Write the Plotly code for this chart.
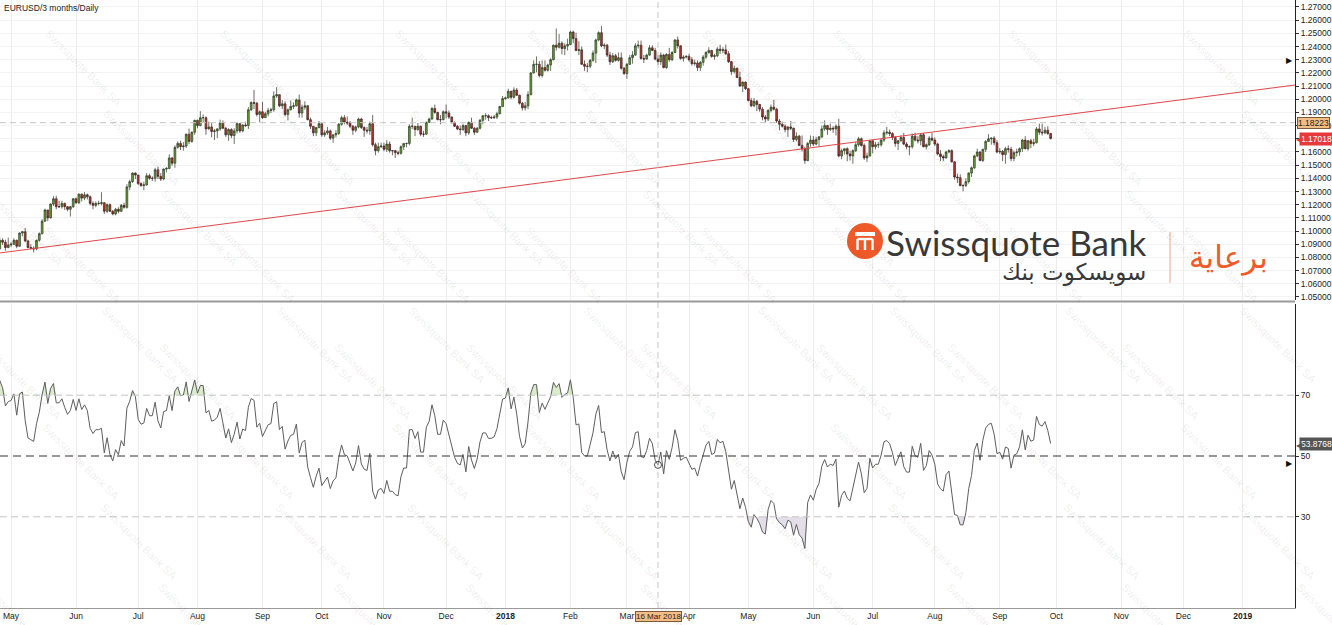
import numpy as np
import pandas as pd
import plotly.graph_objects as go
from plotly.subplots import make_subplots

# ---------------- data (EURUSD daily, weekdays) ----------------
first_day = "2017-04-03"
last_day = "2018-09-27"

opens = [
 1.0650,1.0665,1.0670,1.0665,1.0645,1.0590,1.0600,1.0610,1.0665,1.0615,1.0615,1.0645,1.0730,1.0715,1.0715,1.0900,1.0865,1.0930,1.0915,1.0875,
 1.0895,1.0900,1.0930,1.0885,1.0985,1.0995,1.0925,1.0875,1.0870,1.0865,1.0930,1.0980,1.1075,1.1160,1.1100,1.1205,1.1245,1.1185,1.1185,1.1210,1.1185,1.1165,1.1185,
 1.1245,1.1215,1.1280,1.1250,1.1275,1.1260,1.1210,1.1195,1.1210,1.1210,1.1215,1.1150,1.1200,1.1150,1.1130,1.1165,1.1150,1.1195,1.1180,1.1335,1.1375,1.1440,
 1.1425,1.1360,1.1345,1.1350,1.1420,1.1400,1.1400,1.1465,1.1415,1.1395,1.1470,1.1475,1.1555,1.1515,1.1635,1.1665,1.1640,1.1645,1.1735,1.1680,1.1750,
 1.1840,1.1800,1.1860,1.1860,1.1775,1.1790,1.1755,1.1760,1.1775,1.1820,1.1780,1.1730,1.1770,1.1725,1.1760,1.1815,1.1760,1.1805,1.1800,1.1920,1.1975,1.1970,1.1885,
 1.1905,1.1860,1.1890,1.1915,1.1920,1.2025,1.2035,1.1950,1.1965,1.1885,1.1920,1.1945,1.1950,1.1995,1.1895,1.1940,1.1950,1.1845,1.1795,1.1745,1.1785,
 1.1815,1.1730,1.1745,1.1760,1.1705,1.1730,1.1740,1.1810,1.1860,1.1825,1.1820,1.1795,1.1765,1.1790,1.1850,1.1785,1.1765,1.1760,1.1815,1.1655,1.1610,1.1640,
 1.1645,1.1620,1.1660,1.1610,1.1610,1.1595,1.1590,1.1640,1.1665,1.1665,1.1795,1.1795,1.1770,1.1795,1.1735,1.1735,1.1825,1.1850,1.1930,1.1900,1.1845,1.1845,
 1.1905,1.1895,1.1865,1.1825,1.1795,1.1775,1.1770,1.1800,1.1745,1.1825,1.1780,1.1750,1.1780,1.1840,1.1875,1.1875,1.1860,1.1860,1.1865,1.1890,1.1945,
 1.2005,1.2010,1.2060,1.2015,1.2070,1.2030,1.1970,1.1935,1.1950,1.2035,1.2200,1.2265,1.2265,1.2180,1.2240,1.2220,1.2260,1.2300,1.2410,1.2395,1.2425,1.2385,1.2405,
 1.2415,1.2510,1.2460,1.2370,1.2375,1.2265,1.2250,1.2250,1.2295,1.2350,1.2450,1.2505,1.2405,1.2410,1.2335,1.2285,1.2330,1.2295,1.2315,1.2235,
 1.2195,1.2265,1.2315,1.2335,1.2405,1.2410,1.2310,1.2305,1.2335,1.2390,1.2370,1.2305,1.2285,1.2335,1.2240,1.2340,1.2300,1.2355,1.2450,1.2405,1.2310,1.2320,
 1.2325,1.2300,1.2270,1.2275,1.2240,1.2280,1.2320,1.2355,1.2370,1.2325,1.2330,1.2380,1.2370,1.2375,1.2345,1.2285,1.2210,1.2235,1.2165,1.2100,1.2130,
 1.2080,1.1990,1.1950,1.1985,1.1960,1.1925,1.1865,1.1850,1.1915,1.1940,1.1925,1.1835,1.1810,1.1795,1.1770,1.1790,1.1780,1.1695,1.1720,1.1650,1.1625,1.1535,1.1665,
 1.1690,1.1660,1.1695,1.1715,1.1775,1.1800,1.1770,1.1780,1.1775,1.1795,1.1570,1.1610,1.1625,1.1585,1.1570,1.1610,1.1655,1.1700,1.1650,1.1555,1.1570,
 1.1685,1.1640,1.1655,1.1655,1.1690,1.1745,1.1750,1.1740,1.1710,1.1665,1.1685,1.1710,1.1660,1.1640,1.1640,1.1720,1.1690,1.1685,1.1730,1.1640,1.1655,1.1705,
 1.1690,1.1660,1.1585,1.1565,1.1555,1.1600,1.1610,1.1525,1.1410,1.1405,1.1345,1.1345,1.1375,1.1440,1.1480,1.1570,1.1600,1.1535,1.1620,1.1680,1.1700,1.1705,1.1670,
 1.1600,1.1605,1.1580,1.1625,1.1620,1.1550,1.1595,1.1600,1.1625,1.1690,1.1625,1.1685,1.1665,1.1670,1.1775,1.1750,1.1745,1.1765,1.1740,
]
highs = [
 1.0690,1.0680,1.0700,1.0690,1.0670,1.0620,1.0625,1.0680,1.0680,1.0630,1.0660,1.0735,1.0740,1.0780,1.0740,1.0937,1.0950,1.0945,1.0935,1.0950,
 1.0915,1.0945,1.0935,1.0990,1.1000,1.1023,1.0935,1.0900,1.0885,1.0935,1.0990,1.1090,1.1170,1.1160,1.1210,1.1265,1.1268,1.1230,1.1230,1.1215,1.1190,1.1190,1.1250,
 1.1255,1.1285,1.1285,1.1296,1.1285,1.1270,1.1225,1.1225,1.1230,1.1295,1.1220,1.1210,1.1210,1.1160,1.1175,1.1180,1.1205,1.1215,1.1355,1.1390,1.1445,1.1445,
 1.1425,1.1370,1.1375,1.1440,1.1435,1.1415,1.1480,1.1490,1.1440,1.1475,1.1485,1.1583,1.1560,1.1650,1.1680,1.1685,1.1675,1.1740,1.1777,1.1755,1.1845,
 1.1845,1.1910,1.1885,1.1870,1.1830,1.1820,1.1775,1.1780,1.1845,1.1840,1.1790,1.1780,1.1780,1.1780,1.1825,1.1820,1.1810,1.1830,1.1940,1.1985,1.2070,1.1980,1.1915,
 1.1980,1.1905,1.1935,1.1935,1.2060,1.2092,1.2035,1.1995,1.1985,1.1930,1.1990,1.1975,1.2005,1.2035,1.1960,1.1985,1.1955,1.1860,1.1795,1.1790,1.1835,
 1.1815,1.1765,1.1790,1.1770,1.1735,1.1765,1.1820,1.1875,1.1880,1.1870,1.1835,1.1805,1.1800,1.1860,1.1860,1.1795,1.1790,1.1830,1.1880,1.1670,1.1670,1.1670,
 1.1670,1.1690,1.1680,1.1615,1.1615,1.1610,1.1650,1.1665,1.1670,1.1810,1.1860,1.1795,1.1820,1.1800,1.1760,1.1830,1.1860,1.1940,1.1960,1.1905,1.1880,1.1915,
 1.1960,1.1915,1.1870,1.1830,1.1805,1.1800,1.1815,1.1805,1.1830,1.1860,1.1790,1.1790,1.1850,1.1880,1.1895,1.1885,1.1875,1.1880,1.1905,1.1950,1.2025,
 1.2020,1.2080,1.2065,1.2090,1.2085,1.2035,1.1980,1.1980,1.2060,1.2205,1.2295,1.2325,1.2290,1.2295,1.2295,1.2270,1.2310,1.2415,1.2537,1.2495,1.2440,1.2425,1.2460,
 1.2520,1.2520,1.2505,1.2440,1.2400,1.2295,1.2275,1.2305,1.2370,1.2460,1.2515,1.2555,1.2425,1.2420,1.2360,1.2350,1.2345,1.2355,1.2355,1.2245,
 1.2275,1.2335,1.2365,1.2425,1.2445,1.2445,1.2335,1.2345,1.2410,1.2410,1.2390,1.2335,1.2355,1.2345,1.2350,1.2390,1.2365,1.2455,1.2476,1.2410,1.2335,1.2335,
 1.2345,1.2320,1.2300,1.2295,1.2290,1.2335,1.2365,1.2395,1.2375,1.2345,1.2395,1.2414,1.2395,1.2415,1.2365,1.2290,1.2255,1.2240,1.2210,1.2135,1.2135,
 1.2085,1.2010,1.2010,1.1995,1.1965,1.1940,1.1880,1.1925,1.1960,1.1995,1.1935,1.1850,1.1830,1.1810,1.1795,1.1835,1.1785,1.1750,1.1730,1.1725,1.1640,1.1675,1.1725,
 1.1720,1.1715,1.1720,1.1800,1.1840,1.1805,1.1815,1.1795,1.1810,1.1852,1.1625,1.1625,1.1635,1.1610,1.1620,1.1675,1.1715,1.1710,1.1665,1.1595,1.1690,
 1.1690,1.1675,1.1675,1.1700,1.1765,1.1790,1.1770,1.1750,1.1720,1.1690,1.1725,1.1745,1.1675,1.1650,1.1740,1.1745,1.1720,1.1740,1.1745,1.1665,1.1720,1.1745,
 1.1710,1.1670,1.1615,1.1580,1.1610,1.1620,1.1620,1.1530,1.1435,1.1430,1.1355,1.1400,1.1445,1.1490,1.1580,1.1625,1.1605,1.1625,1.1690,1.1735,1.1710,1.1720,1.1690,
 1.1630,1.1615,1.1640,1.1650,1.1640,1.1610,1.1625,1.1635,1.1700,1.1720,1.1690,1.1700,1.1700,1.1790,1.1815,1.1815,1.1790,1.1795,1.1745,
]
lows = [
 1.0635,1.0640,1.0640,1.0640,1.0570,1.0570,1.0580,1.0595,1.0605,1.0605,1.0600,1.0640,1.0690,1.0685,1.0680,1.0820,1.0860,1.0895,1.0850,1.0870,
 1.0880,1.0895,1.0870,1.0880,1.0960,1.0915,1.0870,1.0865,1.0838,1.0855,1.0920,1.0975,1.1070,1.1075,1.1095,1.1190,1.1165,1.1175,1.1170,1.1160,1.1150,1.1110,1.1175,
 1.1205,1.1205,1.1225,1.1235,1.1240,1.1195,1.1165,1.1180,1.1195,1.1195,1.1130,1.1135,1.1145,1.1120,1.1120,1.1135,1.1145,1.1170,1.1170,1.1310,1.1365,1.1395,
 1.1350,1.1335,1.1310,1.1345,1.1390,1.1380,1.1375,1.1395,1.1380,1.1385,1.1445,1.1470,1.1495,1.1480,1.1625,1.1615,1.1610,1.1630,1.1660,1.1670,1.1730,
 1.1780,1.1795,1.1825,1.1730,1.1770,1.1712,1.1690,1.1705,1.1760,1.1775,1.1715,1.1685,1.1705,1.1660,1.1740,1.1745,1.1750,1.1790,1.1775,1.1910,1.1925,1.1870,1.1825,
 1.1850,1.1860,1.1870,1.1895,1.1905,1.2010,1.1940,1.1925,1.1870,1.1840,1.1915,1.1925,1.1945,1.1860,1.1860,1.1920,1.1840,1.1775,1.1720,1.1720,1.1780,
 1.1715,1.1715,1.1730,1.1690,1.1670,1.1710,1.1730,1.1800,1.1810,1.1805,1.1780,1.1730,1.1750,1.1780,1.1775,1.1715,1.1740,1.1730,1.1640,1.1575,1.1595,1.1630,
 1.1605,1.1600,1.1595,1.1575,1.1555,1.1575,1.1580,1.1615,1.1635,1.1650,1.1775,1.1720,1.1760,1.1720,1.1715,1.1730,1.1820,1.1845,1.1890,1.1840,1.1810,1.1840,
 1.1855,1.1850,1.1815,1.1790,1.1765,1.1730,1.1760,1.1720,1.1730,1.1775,1.1730,1.1745,1.1770,1.1810,1.1845,1.1835,1.1850,1.1850,1.1850,1.1885,1.1940,
 1.1995,1.2005,1.2000,1.2005,1.2025,1.1960,1.1915,1.1915,1.1925,1.2030,1.2195,1.2205,1.2165,1.2165,1.2210,1.2210,1.2215,1.2295,1.2370,1.2385,1.2340,1.2335,1.2370,
 1.2410,1.2425,1.2365,1.2335,1.2260,1.2215,1.2205,1.2235,1.2285,1.2275,1.2440,1.2395,1.2380,1.2320,1.2260,1.2275,1.2285,1.2285,1.2225,1.2185,
 1.2155,1.2260,1.2270,1.2330,1.2385,1.2300,1.2275,1.2300,1.2330,1.2365,1.2295,1.2260,1.2260,1.2235,1.2230,1.2285,1.2290,1.2350,1.2385,1.2300,1.2285,1.2310,
 1.2285,1.2255,1.2255,1.2215,1.2215,1.2255,1.2305,1.2345,1.2315,1.2300,1.2320,1.2345,1.2350,1.2335,1.2275,1.2185,1.2195,1.2160,1.2095,1.2055,1.2070,
 1.1985,1.1940,1.1940,1.1910,1.1905,1.1840,1.1820,1.1835,1.1900,1.1915,1.1820,1.1765,1.1785,1.1750,1.1715,1.1765,1.1675,1.1680,1.1645,1.1605,1.1510,1.1530,1.1640,
 1.1645,1.1650,1.1645,1.1705,1.1760,1.1730,1.1760,1.1745,1.1725,1.1560,1.1545,1.1580,1.1530,1.1535,1.1510,1.1600,1.1640,1.1640,1.1540,1.1525,1.1565,
 1.1590,1.1620,1.1630,1.1640,1.1675,1.1730,1.1720,1.1690,1.1640,1.1615,1.1680,1.1650,1.1620,1.1575,1.1625,1.1680,1.1665,1.1650,1.1635,1.1620,1.1645,1.1680,
 1.1645,1.1575,1.1530,1.1530,1.1550,1.1590,1.1520,1.1390,1.1365,1.1340,1.1301,1.1335,1.1360,1.1410,1.1470,1.1560,1.1530,1.1525,1.1600,1.1675,1.1655,1.1650,1.1590,
 1.1585,1.1530,1.1510,1.1595,1.1530,1.1530,1.1565,1.1570,1.1600,1.1620,1.1610,1.1630,1.1645,1.1665,1.1730,1.1725,1.1735,1.1730,1.1695,
]
closes = [
 1.0665,1.0670,1.0665,1.0645,1.0590,1.0600,1.0610,1.0665,1.0615,1.0615,1.0645,1.0730,1.0715,1.0715,1.0725,1.0865,1.0930,1.0915,1.0875,1.0895,
 1.0900,1.0930,1.0885,1.0985,1.0995,1.0925,1.0875,1.0870,1.0865,1.0930,1.0980,1.1075,1.1160,1.1100,1.1205,1.1245,1.1185,1.1185,1.1210,1.1185,1.1165,1.1185,1.1245,
 1.1215,1.1280,1.1250,1.1275,1.1260,1.1210,1.1195,1.1210,1.1210,1.1215,1.1150,1.1200,1.1150,1.1130,1.1165,1.1150,1.1195,1.1180,1.1335,1.1375,1.1440,1.1425,
 1.1360,1.1345,1.1350,1.1420,1.1400,1.1400,1.1465,1.1415,1.1395,1.1470,1.1475,1.1555,1.1515,1.1635,1.1665,1.1640,1.1645,1.1735,1.1680,1.1750,1.1840,
 1.1800,1.1860,1.1860,1.1775,1.1790,1.1755,1.1760,1.1775,1.1820,1.1780,1.1730,1.1770,1.1725,1.1760,1.1815,1.1760,1.1805,1.1800,1.1920,1.1975,1.1970,1.1885,1.1905,
 1.1860,1.1890,1.1915,1.1920,1.2025,1.2035,1.1950,1.1965,1.1885,1.1920,1.1945,1.1950,1.1995,1.1895,1.1940,1.1950,1.1845,1.1795,1.1745,1.1785,1.1815,
 1.1730,1.1745,1.1760,1.1705,1.1730,1.1740,1.1810,1.1860,1.1825,1.1820,1.1795,1.1765,1.1790,1.1850,1.1785,1.1765,1.1760,1.1815,1.1655,1.1610,1.1640,1.1645,
 1.1620,1.1660,1.1610,1.1610,1.1595,1.1590,1.1640,1.1665,1.1665,1.1795,1.1795,1.1770,1.1795,1.1735,1.1735,1.1825,1.1850,1.1930,1.1900,1.1845,1.1845,1.1905,
 1.1895,1.1865,1.1825,1.1795,1.1775,1.1770,1.1800,1.1745,1.1825,1.1780,1.1750,1.1780,1.1840,1.1875,1.1875,1.1860,1.1860,1.1865,1.1890,1.1945,1.2005,
 1.2010,1.2060,1.2015,1.2070,1.2030,1.1970,1.1935,1.1950,1.2035,1.2200,1.2265,1.2265,1.2180,1.2240,1.2220,1.2260,1.2300,1.2410,1.2395,1.2425,1.2385,1.2405,1.2415,
 1.2510,1.2460,1.2370,1.2375,1.2265,1.2250,1.2250,1.2295,1.2350,1.2450,1.2505,1.2405,1.2410,1.2335,1.2285,1.2330,1.2295,1.2315,1.2235,1.2195,
 1.2265,1.2315,1.2335,1.2405,1.2410,1.2310,1.2305,1.2335,1.2390,1.2370,1.2305,1.2285,1.2335,1.2240,1.2340,1.2300,1.2355,1.2450,1.2405,1.2310,1.2320,1.2325,
 1.2300,1.2270,1.2275,1.2240,1.2280,1.2320,1.2355,1.2370,1.2325,1.2330,1.2380,1.2370,1.2375,1.2345,1.2285,1.2210,1.2235,1.2165,1.2100,1.2130,1.2080,
 1.1990,1.1950,1.1985,1.1960,1.1925,1.1865,1.1850,1.1915,1.1940,1.1925,1.1835,1.1810,1.1795,1.1770,1.1790,1.1780,1.1695,1.1720,1.1650,1.1625,1.1535,1.1665,1.1690,
 1.1660,1.1695,1.1715,1.1775,1.1800,1.1770,1.1780,1.1775,1.1795,1.1570,1.1610,1.1625,1.1585,1.1570,1.1610,1.1655,1.1700,1.1650,1.1555,1.1570,1.1685,
 1.1640,1.1655,1.1655,1.1690,1.1745,1.1750,1.1740,1.1710,1.1665,1.1685,1.1710,1.1660,1.1640,1.1640,1.1720,1.1690,1.1685,1.1730,1.1640,1.1655,1.1705,1.1690,
 1.1660,1.1585,1.1565,1.1555,1.1600,1.1610,1.1525,1.1410,1.1405,1.1345,1.1345,1.1375,1.1440,1.1480,1.1570,1.1600,1.1535,1.1620,1.1680,1.1700,1.1705,1.1670,1.1600,
 1.1605,1.1580,1.1625,1.1620,1.1550,1.1595,1.1600,1.1625,1.1690,1.1625,1.1685,1.1665,1.1670,1.1775,1.1750,1.1745,1.1765,1.1740,1.1702,
]

month_ticks = ["2017-05-01", "2017-06-01", "2017-07-03", "2017-08-01", "2017-09-01", "2017-10-02",
               "2017-11-01", "2017-12-01", "2018-01-01", "2018-02-01", "2018-03-01", "2018-04-02",
               "2018-05-01", "2018-06-01", "2018-07-02", "2018-08-01", "2018-09-03", "2018-10-01",
               "2018-11-01", "2018-12-03", "2019-01-01"]
month_labels = ["May", "Jun", "Jul", "Aug", "Sep", "Oct", "Nov", "Dec", "<b>2018</b>", "Feb", "Mar", "Apr",
                "May", "Jun", "Jul", "Aug", "Sep", "Oct", "Nov", "Dec", "<b>2019</b>"]
price_ticks = [1.05, 1.06, 1.07, 1.08, 1.09, 1.10, 1.11, 1.12, 1.13, 1.14, 1.15, 1.16,
               1.17, 1.18, 1.19, 1.20, 1.21, 1.22, 1.23, 1.24, 1.25, 1.26, 1.27]
rsi_ticks = [30, 50, 70]
trend_dates = ["2017-04-25 02:00", "2019-01-25 12:00"]
trend_prices = [1.0834, 1.2108]
crosshair_date = "2018-03-16"
crosshair_price = 1.18223
last_price = 1.17018
rsi_last = 53.8768
alert_price = 1.2298
alert_rsi = 47.7
x_range = ["2017-04-25 02:00", "2019-01-25 12:00"]
price_range = [1.0477, 1.2753]
rsi_period = 14

# ---------------- derived ----------------
dates = pd.bdate_range(first_day, last_day)
assert len(dates) == len(closes) == len(opens) == len(highs) == len(lows)

c = np.array(closes)
d = np.diff(c)
gain = np.where(d > 0, d, 0.0)
loss = np.where(d < 0, -d, 0.0)
rsi = np.full(len(c), np.nan)
ag = gain[:rsi_period].mean()
al = loss[:rsi_period].mean()
rsi[rsi_period] = 100 - 100 / (1 + ag / al)
for i in range(rsi_period, len(d)):
    ag = (ag * (rsi_period - 1) + gain[i]) / rsi_period
    al = (al * (rsi_period - 1) + loss[i]) / rsi_period
    rsi[i + 1] = 100 - 100 / (1 + ag / al)
rd = dates[rsi_period:]
rv = rsi[rsi_period:]

# ---------------- figure ----------------
W, H = 1332, 625
ML, MR, MT, MB = 0, 37, 0, 17
PW, PH = W - ML - MR, H - MT - MB


def px(x):
    return (x - ML) / PW


def py(y):
    return 1 - (y - MT) / PH


fig = make_subplots(rows=2, cols=1, shared_xaxes=True, vertical_spacing=0.01)

fig.add_trace(go.Candlestick(
    x=dates, open=opens, high=highs, low=lows, close=closes,
    increasing=dict(line=dict(color="#2f3a25", width=0.7), fillcolor="#62a532"),
    decreasing=dict(line=dict(color="#3a2422", width=0.7), fillcolor="#bf3129"),
    whiskerwidth=0, showlegend=False, hoverinfo="skip"), row=1, col=1)

fig.add_trace(go.Scatter(x=trend_dates, y=trend_prices, mode="lines",
                         line=dict(color="#e2474a", width=1), showlegend=False, hoverinfo="skip"),
              row=1, col=1)

# RSI overbought / oversold fills
fig.add_trace(go.Scatter(x=rd, y=np.full(len(rv), 70.0), mode="lines", line=dict(width=0),
                         showlegend=False, hoverinfo="skip"), row=2, col=1)
fig.add_trace(go.Scatter(x=rd, y=np.maximum(rv, 70.0), mode="lines", line=dict(width=0),
                         fill="tonexty", fillcolor="rgba(175,212,145,0.45)",
                         showlegend=False, hoverinfo="skip"), row=2, col=1)
fig.add_trace(go.Scatter(x=rd, y=np.full(len(rv), 30.0), mode="lines", line=dict(width=0),
                         showlegend=False, hoverinfo="skip"), row=2, col=1)
fig.add_trace(go.Scatter(x=rd, y=np.minimum(rv, 30.0), mode="lines", line=dict(width=0),
                         fill="tonexty", fillcolor="rgba(205,195,215,0.55)",
                         showlegend=False, hoverinfo="skip"), row=2, col=1)
fig.add_trace(go.Scatter(x=rd, y=rv, mode="lines", line=dict(color="#5e5e5e", width=1),
                         showlegend=False, hoverinfo="skip"), row=2, col=1)

ci = list(dates).index(pd.Timestamp(crosshair_date))
fig.add_trace(go.Scatter(x=[dates[ci]], y=[rsi[ci]], mode="markers",
                         marker=dict(symbol="circle-open", size=7, color="#444", line=dict(width=1)),
                         showlegend=False, hoverinfo="skip"), row=2, col=1)

tick_font = dict(family="Liberation Sans, Arial, sans-serif", size=8.5, color="#222")
rb = [dict(bounds=["sat", "mon"])]

fig.update_layout(
    width=W, height=H, margin=dict(l=ML, r=MR, t=MT, b=MB),
    paper_bgcolor="white", plot_bgcolor="white", showlegend=False, boxgap=0.1,
    xaxis=dict(type="date", range=x_range, rangebreaks=rb, rangeslider=dict(visible=False),
               tickvals=month_ticks, showticklabels=False, showgrid=True, gridcolor="#ececec",
               gridwidth=1, zeroline=False, showline=False),
    xaxis2=dict(type="date", range=x_range, rangebreaks=rb, tickvals=month_ticks, ticktext=month_labels,
                tickfont=tick_font, showgrid=True, gridcolor="#ececec", gridwidth=1, ticks="",
                showline=True, linecolor="#9a9a9a", linewidth=1, zeroline=False),
    yaxis=dict(domain=[1 - 300 / PH, 1], range=price_range, side="right", tickvals=price_ticks,
               tickformat=".5f", tickfont=tick_font, ticks="outside", ticklen=3, tickcolor="#333",
               showgrid=True, gridcolor="#f3f3f3", showline=True, linecolor="#222", linewidth=1,
               zeroline=False, automargin=False),
    yaxis2=dict(domain=[0, 1 - 304 / PH], range=[0, 100], side="right", tickvals=rsi_ticks,
                tickfont=tick_font, ticks="outside", ticklen=3, tickcolor="#333",
                showgrid=False, showline=True, linecolor="#222", linewidth=1, zeroline=False,
                automargin=False),
)

shapes = []
# RSI levels
for lvl, col, dash, wd in [(70, "#c4c4c4", "7px,4px", 1), (30, "#c4c4c4", "7px,4px", 1),
                           (50, "#333333", "8px,5px", 1.2)]:
    shapes.append(dict(type="line", xref="paper", yref="y2", x0=0, x1=1, y0=lvl, y1=lvl,
                       line=dict(color=col, width=wd, dash=dash)))
# crosshair
shapes.append(dict(type="line", xref="x", yref="paper", x0=crosshair_date, x1=crosshair_date, y0=0, y1=1,
                   line=dict(color="#c6c6c6", width=1, dash="6px,4px")))
shapes.append(dict(type="line", xref="paper", yref="y", x0=0, x1=1, y0=crosshair_price, y1=crosshair_price,
                   line=dict(color="#c6c6c6", width=1, dash="6px,4px")))
# panel separator
shapes.append(dict(type="line", xref="paper", yref="paper", x0=0, x1=1, y0=py(301.5), y1=py(301.5),
                   line=dict(color="#9a9a9a", width=2)))
# logo circle + icon
shapes.append(dict(type="circle", xref="paper", yref="paper", x0=px(847), x1=px(883), y0=py(259), y1=py(223),
                   fillcolor="#f05a28", line=dict(width=0)))
shapes.append(dict(type="rect", xref="paper", yref="paper", x0=px(855), x1=px(875), y0=py(236), y1=py(232),
                   fillcolor="white", line=dict(width=0)))
for xx in (857.5, 865, 872.5):
    shapes.append(dict(type="line", xref="paper", yref="paper", x0=px(xx), x1=px(xx), y0=py(239), y1=py(250),
                       line=dict(color="white", width=2.4)))
shapes.append(dict(type="line", xref="paper", yref="paper", x0=px(857.5), x1=px(872.5), y0=py(239), y1=py(239),
                   line=dict(color="white", width=2.4)))
# separator in logo
shapes.append(dict(type="line", xref="paper", yref="paper", x0=px(1170), x1=px(1170), y0=py(232), y1=py(283),
                   line=dict(color="#f2b49c", width=1.2)))

annotations = []
# watermark
wm_font = dict(family="Liberation Sans, Arial, sans-serif", size=11, color="rgba(0,0,0,0.085)")
for r in range(9):
    yy = 25 + r * 80
    off = (r * 58) % 175
    for k in range(-1, 9):
        xx = 40 + off + k * 175
        if -60 < xx < 1380:
            annotations.append(dict(x=xx / PW, y=py(yy), xref="paper", yref="paper", text="Swissquote Bank SA",
                                    showarrow=False, textangle=45, font=wm_font))

annotations.append(dict(x=px(2), y=py(1), xref="paper", yref="paper", xanchor="left", yanchor="top",
                        text="EURUSD/3 months/Daily", showarrow=False,
                        font=dict(family="Liberation Sans, Arial, sans-serif", size=8.5, color="#222")))

# logo texts
annotations.append(dict(x=px(884), y=py(242), xref="paper", yref="paper", xanchor="left", yanchor="middle",
                        text="Swissquote Bank", showarrow=False,
                        font=dict(family="Lato, sans-serif", size=35, color="#383838")))
annotations.append(dict(x=px(1148), y=py(272), xref="paper", yref="paper", xanchor="right", yanchor="middle",
                        text="سويسكوت بنك", showarrow=False,
                        font=dict(family="DejaVu Sans, sans-serif", size=23, color="#383838")))
annotations.append(dict(x=px(1228), y=py(257), xref="paper", yref="paper", xanchor="center", yanchor="middle",
                        text="برعاية", showarrow=False,
                        font=dict(family="DejaVu Sans, sans-serif", size=31, color="#f05a28")))

# axis value labels
lab_font = dict(family="Liberation Sans, Arial, sans-serif", size=8.5)
annotations.append(dict(x=1, y=crosshair_price, xref="paper", yref="y", xanchor="left", yanchor="middle",
                        xshift=2, text="%.5f" % crosshair_price, showarrow=False, bgcolor="#f5bd86",
                        bordercolor="#7a5a3a", borderwidth=1, borderpad=0, font=dict(color="#222", **lab_font)))
annotations.append(dict(x=1, y=last_price, xref="paper", yref="y", xanchor="left", yanchor="middle",
                        xshift=4, text="%.5f" % last_price, showarrow=False, bgcolor="#e8383c",
                        borderpad=1, font=dict(color="white", **lab_font)))
annotations.append(dict(x=1, y=last_price, xref="paper", yref="y", xanchor="left", yanchor="middle",
                        xshift=-1, text="◀", showarrow=False, font=dict(color="#e8383c", size=8)))
annotations.append(dict(x=1, y=rsi_last, xref="paper", yref="y2", xanchor="left", yanchor="middle",
                        xshift=4, text="%.4f" % rsi_last, showarrow=False, bgcolor="#555555",
                        borderpad=1, font=dict(color="white", **lab_font)))
annotations.append(dict(x=1, y=rsi_last, xref="paper", yref="y2", xanchor="left", yanchor="middle",
                        xshift=-1, text="◀", showarrow=False, font=dict(color="#555555", size=8)))
annotations.append(dict(x=1, y=alert_price, xref="paper", yref="y", xanchor="right", yanchor="middle",
                        text="▶", showarrow=False, font=dict(color="#111", size=8)))
annotations.append(dict(x=1, y=alert_rsi, xref="paper", yref="y2", xanchor="right", yanchor="middle",
                        text="▶", showarrow=False, font=dict(color="#111", size=8)))
annotations.append(dict(x=crosshair_date, y=0, xref="x2", yref="paper", xanchor="center", yanchor="top",
                        yshift=-3, xshift=1, text="16 Mar 2018", showarrow=False, bgcolor="#f5bd86",
                        bordercolor="#7a5a3a", borderwidth=1, borderpad=0,
                        font=dict(color="#222", family="Liberation Sans, Arial, sans-serif", size=8)))

fig.update_layout(shapes=shapes, annotations=annotations)
fig.write_html("out.html", config={"displayModeBar": False},
               post_script="document.body.style.margin='0';document.body.style.overflow='hidden';")
